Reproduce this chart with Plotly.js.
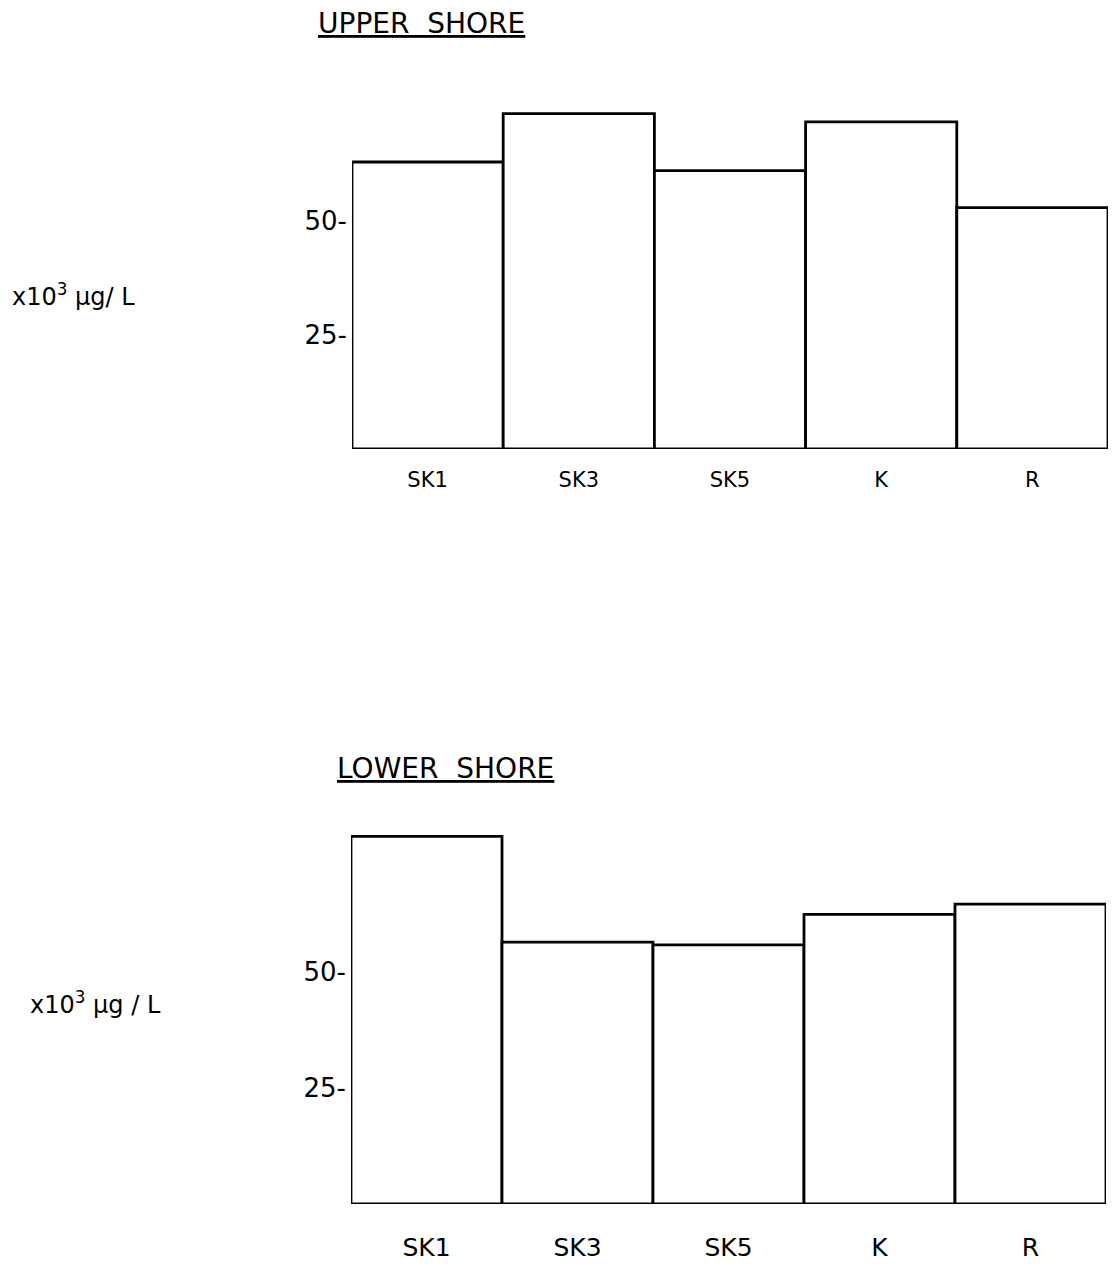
<!DOCTYPE html>
<html>
<head>
<meta charset="utf-8">
<script src="https://cdn.plot.ly/plotly-3.0.1.min.js"></script>
<style>html,body{margin:0;padding:0;background:#fff;}#chart{width:1115px;height:1264px;}</style>
</head>
<body>
<div id="chart"></div>
<script>
// Data
const sites = ["SK1", "SK3", "SK5", "K", "R"];
const upperShore = [62.9, 73.5, 61.0, 71.7, 52.9];
const lowerShore = [79.3, 56.5, 55.9, 62.5, 64.7];
const yTickVals = [25, 50];
const yTickText = ["25-", "50-"];
const unitLabel = "x10<sup>3</sup> µg/ L";
const unitLabelLower = "x10<sup>3</sup> µg / L";

const FONT = "DejaVu Sans, sans-serif";
const barStyle = {color: "#ffffff", line: {color: "#000", width: 2.8}};

const traces = [
  {type: "bar", x: sites, y: upperShore, xaxis: "x", yaxis: "y", marker: barStyle, hoverinfo: "none"},
  {type: "bar", x: sites, y: lowerShore, xaxis: "x2", yaxis: "y2", marker: barStyle, hoverinfo: "none"}
];

const yCommon = {
  tickmode: "array", tickvals: yTickVals, ticktext: yTickText,
  showgrid: false, zeroline: false, showline: false, ticks: "",
  ticklabelstandoff: 4
};
const xCommon = {showgrid: false, zeroline: false, showline: false, ticks: ""};

const layout = {
  width: 1115, height: 1264,
  margin: {l: 0, r: 0, t: 0, b: 0},
  paper_bgcolor: "#fff", plot_bgcolor: "#fff",
  showlegend: false, bargap: 0,
  font: {family: FONT, color: "#000", size: 20},
  xaxis: Object.assign({}, xCommon, {domain: [352/1115, 1108/1115], anchor: "y",
    tickfont: {family: FONT, size: 21, color: "#000"}, ticklabelstandoff: 16}),
  yaxis: Object.assign({}, yCommon, {domain: [1 - 449/1264, 1 - 84/1264], range: [0, 80], anchor: "x",
    tickfont: {family: FONT, size: 26, color: "#000"}}),
  xaxis2: Object.assign({}, xCommon, {domain: [351/1115, 1106/1115], anchor: "y2",
    tickfont: {family: FONT, size: 25, color: "#000"}, ticklabelstandoff: 26}),
  yaxis2: Object.assign({}, yCommon, {domain: [1 - 1204/1264, 1 - 810/1264], range: [0, 85], anchor: "x2",
    tickfont: {family: FONT, size: 26, color: "#000"}}),
  annotations: [
    {text: "<u>UPPER&nbsp;&nbsp;SHORE</u>", xref: "paper", yref: "paper", x: 421/1115, y: 1 - 24/1264,
     xanchor: "center", yanchor: "middle", showarrow: false, font: {family: FONT, size: 28, color: "#000"}},
    {text: "<u>LOWER&nbsp;&nbsp;SHORE</u>", xref: "paper", yref: "paper", x: 445/1115, y: 1 - 768/1264,
     xanchor: "center", yanchor: "middle", showarrow: false, font: {family: FONT, size: 28, color: "#000"}},
    {text: unitLabel, xref: "paper", yref: "paper", x: 10/1115, y: 1 - 295/1264,
     xanchor: "left", yanchor: "middle", showarrow: false, font: {family: FONT, size: 24, color: "#000"}},
    {text: unitLabelLower, xref: "paper", yref: "paper", x: 28/1115, y: 1 - 1003/1264,
     xanchor: "left", yanchor: "middle", showarrow: false, font: {family: FONT, size: 24, color: "#000"}}
  ]
};

Plotly.newPlot("chart", traces, layout, {staticPlot: true, displayModeBar: false});
</script>
</body>
</html>
